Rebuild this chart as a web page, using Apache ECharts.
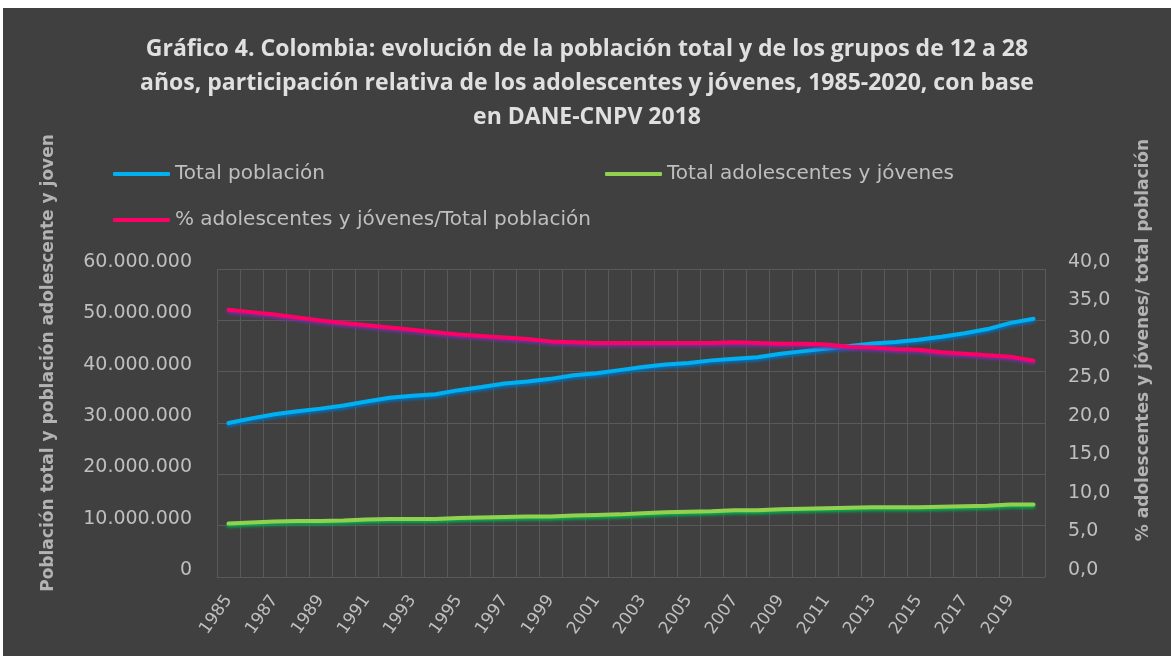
<!DOCTYPE html>
<html>
<head>
    <meta http-equiv="Content-Type" content="text/html; charset=utf-8" />
    <script type="text/javascript" src="https://cdn.jsdelivr.net/npm/echarts@6.0.0/dist/echarts.min.js"></script>
    <style>
        html, body { margin: 0; padding: 0; background: #ffffff; }
        #chartDom { position: absolute; left: 3px; top: 8px; width: 1168px; height: 648px; background: #404040; }
    </style>
</head>
<body>
    <div id="chartDom"></div>

    <script type="text/javascript">
        // data
        var years = ['1985','1986','1987','1988','1989','1990','1991','1992','1993','1994',
                     '1995','1996','1997','1998','1999','2000','2001','2002','2003','2004',
                     '2005','2006','2007','2008','2009','2010','2011','2012','2013','2014',
                     '2015','2016','2017','2018','2019','2020'];

        var totalPoblacion = [30000000, 30900000, 31700000, 32300000, 32800000, 33400000, 34200000, 34900000, 35300000, 35600000,
                              36400000, 37000000, 37700000, 38100000, 38600000, 39300000, 39700000, 40300000, 40900000, 41400000,
                              41700000, 42200000, 42500000, 42800000, 43500000, 44000000, 44500000, 45000000, 45500000, 45800000,
                              46200000, 46800000, 47500000, 48300000, 49500000, 50300000];

        var totalJovenes = [10400000, 10600000, 10800000, 10900000, 10900000, 11000000, 11200000, 11300000, 11300000, 11300000,
                            11500000, 11600000, 11700000, 11800000, 11800000, 12000000, 12100000, 12200000, 12400000, 12600000,
                            12700000, 12800000, 13000000, 13000000, 13200000, 13300000, 13400000, 13500000, 13600000, 13600000,
                            13600000, 13700000, 13800000, 13900000, 14100000, 14100000];

        var pctJovenes = [34.7, 34.4, 34.1, 33.7, 33.3, 33.0, 32.7, 32.4, 32.1, 31.8,
                          31.5, 31.3, 31.1, 30.9, 30.6, 30.5, 30.4, 30.4, 30.4, 30.4,
                          30.4, 30.4, 30.5, 30.4, 30.3, 30.3, 30.2, 29.9, 29.8, 29.6,
                          29.5, 29.2, 29.0, 28.8, 28.6, 28.1];

        var seriesNames = ['Total población', 'Total adolescentes y jóvenes', '% adolescentes y jóvenes/Total población'];

        var gridColor = '#595959';
        var labelColor = '#BFBFBF';
        var font = 'DejaVu Sans';

        function miles(v) {
            return String(v).replace(/\B(?=(\d{3})+(?!\d))/g, '.');
        }

        var legendText = { color: labelColor, fontSize: 20, fontFamily: font };
        function legendFor(name, left, top) {
            return {
                data: [name], left: left, top: top, orient: 'horizontal',
                icon: 'roundRect', itemWidth: 57, itemHeight: 4,
                textStyle: legendText, selectedMode: false
            };
        }

        var myChart = echarts.init(document.getElementById('chartDom'));
        var option = {
            backgroundColor: '#404040',
            animation: false,
            title: {
                text: 'Gráfico 4. Colombia: evolución de la población total y de los grupos de 12 a 28\n' +
                      'años, participación relativa de los adolescentes y jóvenes, 1985-2020, con base\n' +
                      'en DANE-CNPV 2018',
                left: 'center',
                top: 19,
                textStyle: {
                    color: '#E0E0E0', fontSize: 23, fontWeight: 'bold',
                    fontFamily: 'Open Sans', lineHeight: 34
                }
            },
            legend: [
                legendFor(seriesNames[0], 105, 151),
                legendFor(seriesNames[1], 597, 151),
                legendFor(seriesNames[2], 105, 197)
            ],
            grid: { left: 214, right: 126, top: 261, bottom: 79 },
            xAxis: {
                type: 'category',
                data: years,
                boundaryGap: true,
                axisLine: { show: true, lineStyle: { color: gridColor } },
                axisTick: { show: false },
                axisLabel: { interval: 1, rotate: 55, margin: 20, color: labelColor, fontSize: 17, fontFamily: font },
                splitLine: { show: true, interval: 0, lineStyle: { color: gridColor, width: 1 } }
            },
            yAxis: [
                {
                    type: 'value', min: 0, max: 60000000, interval: 10000000,
                    name: 'Población total y población adolescente y joven',
                    nameLocation: 'middle', nameRotate: 90, nameGap: 160,
                    nameTextStyle: { color: '#B3B3B3', fontSize: 17, fontWeight: 'bold', fontFamily: font, padding: [0, 0, 0, 120] },
                    axisLine: { show: false },
                    axisTick: { show: false },
                    axisLabel: {
                        margin: 25, color: labelColor, fontSize: 19, fontFamily: font,
                        verticalAlign: 'bottom', lineHeight: 14, formatter: miles
                    },
                    splitLine: { show: true, lineStyle: { color: gridColor, width: 1 } }
                },
                {
                    type: 'value', min: 0, max: 40, interval: 5,
                    name: '% adolescentes y jóvenes/ total población',
                    nameLocation: 'middle', nameRotate: 90, nameGap: 90,
                    nameTextStyle: { color: '#B3B3B3', fontSize: 17, fontWeight: 'bold', fontFamily: font, padding: [0, 0, 0, 166] },
                    axisLine: { show: false },
                    axisTick: { show: false },
                    axisLabel: {
                        margin: 23, color: labelColor, fontSize: 19, fontFamily: font,
                        verticalAlign: 'bottom', lineHeight: 14,
                        formatter: function (v) { return v.toFixed(1).replace('.', ','); }
                    },
                    splitLine: { show: false }
                }
            ],
            series: [
                {
                    name: seriesNames[0], type: 'line', yAxisIndex: 0, data: totalPoblacion,
                    showSymbol: false, color: '#00B0F0',
                    lineStyle: { width: 4, cap: 'round', shadowColor: '#0070C0', shadowBlur: 3, shadowOffsetY: 2 }
                },
                {
                    name: seriesNames[1], type: 'line', yAxisIndex: 0, data: totalJovenes,
                    showSymbol: false, color: '#92D050',
                    lineStyle: { width: 4, cap: 'round', shadowColor: '#00B050', shadowBlur: 3, shadowOffsetY: 2 }
                },
                {
                    name: seriesNames[2], type: 'line', yAxisIndex: 1, data: pctJovenes,
                    showSymbol: false, color: '#FF0066',
                    lineStyle: { width: 4, cap: 'round', shadowColor: '#7030A0', shadowBlur: 3, shadowOffsetY: 2 }
                }
            ]
        };
        myChart.setOption(option);

        window.onresize = myChart.resize;
    </script>
</body>
</html>
